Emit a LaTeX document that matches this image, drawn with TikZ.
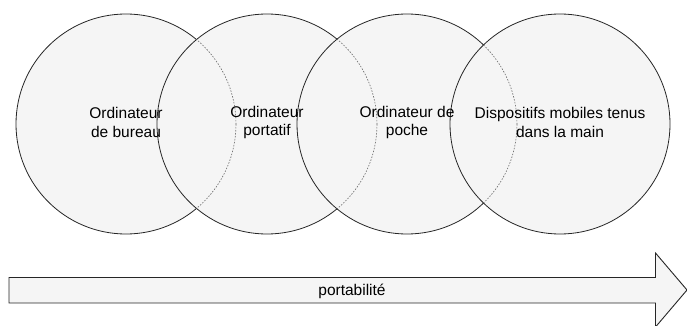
\documentclass[tikz,border=0pt]{standalone}
\usepackage{fontspec}
\setmainfont{Liberation Sans}
\begin{document}
\begin{tikzpicture}[x=1pt,y=-1pt,
  disc/.style={circle, minimum size=220pt, inner sep=0pt, draw=black!85, line width=0.8pt, fill=black!4},
  hidden/.style={draw=black!60, line width=0.6pt, dash pattern=on 1.5pt off 1.5pt},
  lbl/.style={align=center, font=\fontsize{15.5}{18.5}\selectfont, text=black},
  arrowbody/.style={draw=black!85, line width=0.9pt, fill=black!4, line join=miter}]
\useasboundingbox (0,0) rectangle (687,326);
% circles, each later one over the former
\node[disc] (c1) at (126,124) {};
\node[disc] (c2) at (267,124) {};
\node[disc] (c3) at (407,124) {};
\node[disc] (c4) at (560,124) {};
% arcs seen through the later circles
\begin{scope}
  \clip (c2.center) circle (110);
  \draw[hidden] (c1.center) circle (110);
\end{scope}
\begin{scope}
  \clip (c3.center) circle (110);
  \draw[hidden] (c2.center) circle (110);
\end{scope}
\begin{scope}
  \clip (c4.center) circle (110);
  \draw[hidden] (c3.center) circle (110);
\end{scope}
% labels
\node[lbl] (t1) at ([yshift=1.5]c1.center) {Ordinateur\\de bureau};
\node[lbl] (t2) at ([yshift=1.5]c2.center) {Ordinateur\\portatif};
\node[lbl] (t3) at ([yshift=1.5]c3.center) {Ordinateur de\\poche};
\node[lbl] (t4) at ([yshift=1.5]c4.center) {Dispositifs mobiles tenus\\dans la main};
% arrow
\coordinate (a0) at (9,277.5);
\draw[arrowbody] (a0) -- (655.5,277.5) -- (655.5,253) -- (687,290) -- (655.5,327)
  -- (655.5,303) -- (9,303) -- cycle;
\node[lbl] (p) at (352,291) {portabilité};
\end{tikzpicture}
\end{document}
